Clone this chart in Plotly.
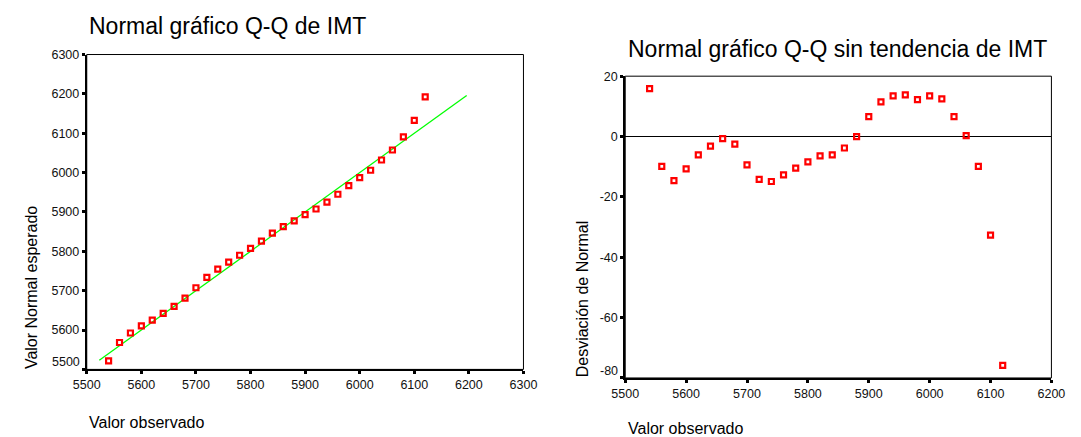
import plotly.graph_objects as go

W, H = 1081, 437

# ---------------- data ----------------
observed = [5540, 5560, 5580, 5600, 5620, 5640, 5660, 5680, 5700, 5720,
            5740, 5760, 5780, 5800, 5820, 5840, 5860, 5880, 5900, 5920,
            5940, 5960, 5980, 6000, 6020, 6040, 6060, 6080, 6100, 6120]
expected_normal = [5521.7, 5568.3, 5592.5, 5610.8, 5625.0, 5642.5, 5660.0, 5681.0, 5707.5, 5734.0,
                   5755.0, 5772.5, 5790.0, 5807.5, 5826.0, 5846.0, 5863.0, 5877.5, 5893.0, 5907.5,
                   5925.0, 5945.0, 5967.0, 5987.5, 6006.0, 6032.0, 6057.5, 6091.0, 6132.5, 6192.5]
deviation = [15.9, -9.9, -14.6, -10.7, -6.1, -3.2, -0.7, -2.5, -9.4, -14.2,
             -14.9, -12.7, -10.5, -8.4, -6.4, -6.1, -3.8, 0.0, 6.6, 11.5,
             13.5, 13.8, 12.2, 13.5, 12.5, 6.6, 0.3, -9.9, -32.7, -75.8]
ref_line_x = [5523, 6196]
ref_line_y = [5523, 6196]

left_xticks = [5500, 5600, 5700, 5800, 5900, 6000, 6100, 6200, 6300]
left_yticks = [5500, 5600, 5700, 5800, 5900, 6000, 6100, 6200, 6300]
right_xticks = [5500, 5600, 5700, 5800, 5900, 6000, 6100, 6200]
right_yticks = [-80, -60, -40, -20, 0, 20]

title_left = "Normal gráfico Q-Q de IMT"
title_right = "Normal gráfico Q-Q sin tendencia de IMT"
xlabel = "Valor observado"
ylabel_left = "Valor Normal esperado"
ylabel_right = "Desviación de Normal"

# ---------------- layout helpers ----------------
def PX(x):
    return x / W

def PY(y):
    return 1 - y / H

def fmt(v):
    return str(v)  # plain hyphen-minus like the original

FONT = "Liberation Sans, Arial, sans-serif"
RED = "#ff0000"
GREEN = "#00ff00"
TICKFONT = dict(family=FONT, size=12.5, color="#111111")

fig = go.Figure()

marker = dict(symbol="square-open", size=5, color=RED, line=dict(width=2.2, color=RED))

fig.add_trace(go.Scatter(x=ref_line_x, y=ref_line_y, mode="lines",
                         line=dict(color=GREEN, width=1.3),
                         xaxis="x", yaxis="y", showlegend=False, hoverinfo="skip"))
fig.add_trace(go.Scatter(x=observed, y=expected_normal, mode="markers", marker=marker,
                         xaxis="x", yaxis="y", showlegend=False))
fig.add_trace(go.Scatter(x=observed, y=deviation, mode="markers", marker=marker,
                         xaxis="x2", yaxis="y2", showlegend=False))

axis_common = dict(showgrid=False, zeroline=False, showline=True, linecolor="black",
                   linewidth=2, ticks="outside", ticklen=3, tickwidth=3, tickcolor="black",
                   tickfont=TICKFONT, mirror=False)

def yticktext(vals):
    # lowest label is drawn separately (raised above its tick, as in the original)
    return [""] + [fmt(v) for v in vals[1:]]

fig.update_layout(
    width=W, height=H, margin=dict(l=0, r=0, t=0, b=0),
    paper_bgcolor="white", plot_bgcolor="white",
    xaxis=dict(domain=[PX(74.7), PX(523)], range=[5500, 6300], tickvals=left_xticks,
               ticktext=[fmt(v) for v in left_xticks], anchor="y", **axis_common),
    yaxis=dict(domain=[PY(368.3), PY(48.3)], range=[5500, 6300], tickvals=left_yticks,
               ticktext=yticktext(left_yticks), anchor="x", **axis_common),
    xaxis2=dict(domain=[PX(627.5), PX(1065)], range=[5500, 6200], tickvals=right_xticks,
                ticktext=[fmt(v) for v in right_xticks], anchor="y2", **axis_common),
    yaxis2=dict(domain=[PY(377), PY(70.3)], range=[-80, 20], tickvals=right_yticks,
                ticktext=yticktext(right_yticks), anchor="x2",
                **{**axis_common, "zeroline": True, "zerolinecolor": "black",
                   "zerolinewidth": 1.3}),
)

# raised lowest y tick labels
fig.add_annotation(xref="x domain", yref="y", x=0, y=left_yticks[0], text=fmt(left_yticks[0]),
                   xanchor="right", yanchor="middle", xshift=-5, yshift=7,
                   showarrow=False, font=TICKFONT)
fig.add_annotation(xref="x2 domain", yref="y2", x=0, y=right_yticks[0], text=fmt(right_yticks[0]),
                   xanchor="right", yanchor="middle", xshift=-5, yshift=7,
                   showarrow=False, font=TICKFONT)

# thin top/right frame
for xr, yr in (("x domain", "y domain"), ("x2 domain", "y2 domain")):
    fig.add_shape(type="rect", xref=xr, yref=yr, x0=0, x1=1, y0=0, y1=1,
                  line=dict(color="black", width=1), layer="above")

annots = [
    dict(text=title_left, x=PX(74.5), y=PY(19.5), xanchor="left", yanchor="middle", font_size=23),
    dict(text=title_right, x=PX(628), y=PY(43), xanchor="left", yanchor="middle", font_size=23),
    dict(text=xlabel, x=PX(74.5), y=PY(422), xanchor="left", yanchor="middle", font_size=16),
    dict(text=xlabel, x=PX(628), y=PY(428), xanchor="left", yanchor="middle", font_size=16),
    dict(text=ylabel_left, x=PX(18), y=PY(370), xanchor="center", yanchor="bottom",
         textangle=-90, font_size=16),
    dict(text=ylabel_right, x=PX(584), y=PY(378), xanchor="center", yanchor="bottom",
         textangle=-90, font_size=16),
]
for a in annots:
    size = a.pop("font_size")
    fig.add_annotation(xref="paper", yref="paper", showarrow=False,
                       font=dict(family=FONT, size=size, color="black"), **a)

fig.write_html("out.html")
